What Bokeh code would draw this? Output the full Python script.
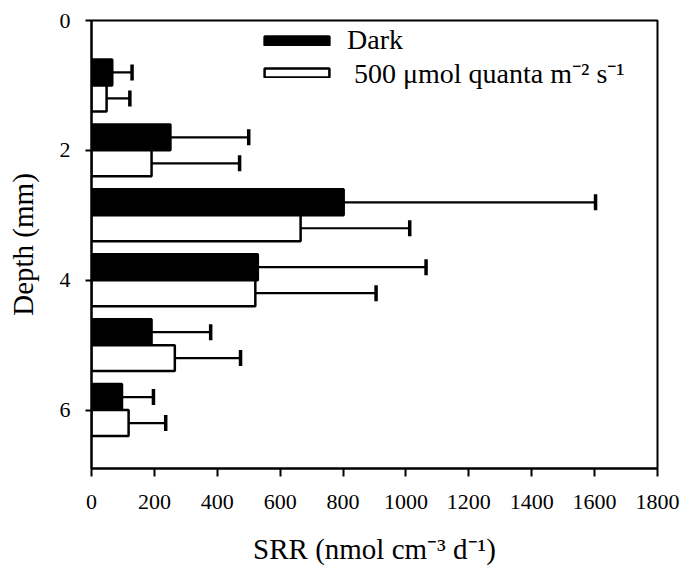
from bokeh.plotting import figure
from bokeh.models import (Range1d, FixedTicker, ColumnDataSource, Whisker, TeeHead,
                          Legend, LegendItem)
from bokeh.embed import file_html
from bokeh.resources import INLINE

# ---- data ----
depths = [1, 2, 3, 4, 5, 6]
dark = [66, 251, 802, 529, 191, 97]
dark_err = [63, 249, 801, 535, 188, 100]
light = [48, 191, 665, 521, 265, 118]
light_err = [74, 280, 347, 384, 209, 118]
x_ticks = [0, 200, 400, 600, 800, 1000, 1200, 1400, 1600, 1800]
y_ticks = [0, 2, 4, 6]
series_names = ["Dark", " 500 \u03bcmol quanta m\u207b\u00b2 s\u207b\u00b9"]

FONT = "Liberation Serif"
bar_h = 0.4
off = 0.2

dark_src = ColumnDataSource(dict(
    y=[d - off for d in depths], v=dark,
    up=[a + b for a, b in zip(dark, dark_err)]))
light_src = ColumnDataSource(dict(
    y=[d + off for d in depths], v=light,
    up=[a + b for a, b in zip(light, light_err)]))

p = figure(width=680, height=567, output_backend="svg", toolbar_location=None,
           x_range=Range1d(0, 1800), y_range=Range1d(6.9, 0),
           min_border_left=91, min_border_right=23, min_border_top=20,
           min_border_bottom=97)

p.xgrid.visible = False
p.ygrid.visible = False
p.outline_line_color = "black"
p.outline_line_width = 2
p.outline_line_alpha = 1

# error bars
for src in (dark_src, light_src):
    w = Whisker(source=src, base="y", lower="v", upper="up", dimension="width",
                line_color="black", line_width=2.2,
                lower_head=None,
                upper_head=TeeHead(size=16, line_color="black", line_width=3.5))
    p.add_layout(w)

r_dark = p.hbar(y="y", left=0, right="v", height=bar_h, source=dark_src,
                fill_color="black", line_color="black", line_width=2.5)
r_light = p.hbar(y="y", left=0, right="v", height=bar_h, source=light_src,
                 fill_color="white", line_color="black", line_width=2.5)

# axes
p.xaxis.ticker = FixedTicker(ticks=x_ticks)
p.yaxis.ticker = FixedTicker(ticks=y_ticks)
for ax in (p.xaxis[0], p.yaxis[0]):
    ax.axis_line_width = 2
    ax.axis_line_color = "black"
    ax.major_tick_line_width = 2
    ax.major_tick_line_color = "black"
    ax.major_tick_in = 0
    ax.minor_tick_line_color = None
    ax.major_label_text_font = FONT
    ax.major_label_text_font_size = "22px"
    ax.major_label_text_color = "black"
    ax.axis_label_text_font = FONT
    ax.axis_label_text_font_size = "29px"
    ax.axis_label_text_font_style = "normal"
    ax.axis_label_text_color = "black"

p.xaxis.major_tick_out = 8
p.yaxis.major_tick_out = 6
p.xaxis.major_label_standoff = 18
p.yaxis.major_label_standoff = 15
p.xaxis.axis_label = "SRR (nmol cm\u207b\u00b3 d\u207b\u00b9)"
p.yaxis.axis_label = "Depth (mm)"
p.xaxis.axis_label_standoff = 21
p.yaxis.axis_label_standoff = 18

leg_common = dict(orientation="vertical", glyph_width=81, glyph_height=11,
                  label_standoff=10, spacing=0, padding=0, margin=0,
                  border_line_color=None, background_fill_alpha=0,
                  label_text_font=FONT, label_text_font_size="28px",
                  label_text_color="black")
leg1 = Legend(items=[LegendItem(label=series_names[0], renderers=[r_dark])],
              location=(165, 412), **leg_common)
leg2 = Legend(items=[LegendItem(label=series_names[1], renderers=[r_light])],
              location=(165, 377), **leg_common)
p.add_layout(leg1)
p.add_layout(leg2)

open("out.html", "w").write(file_html(p, INLINE))
